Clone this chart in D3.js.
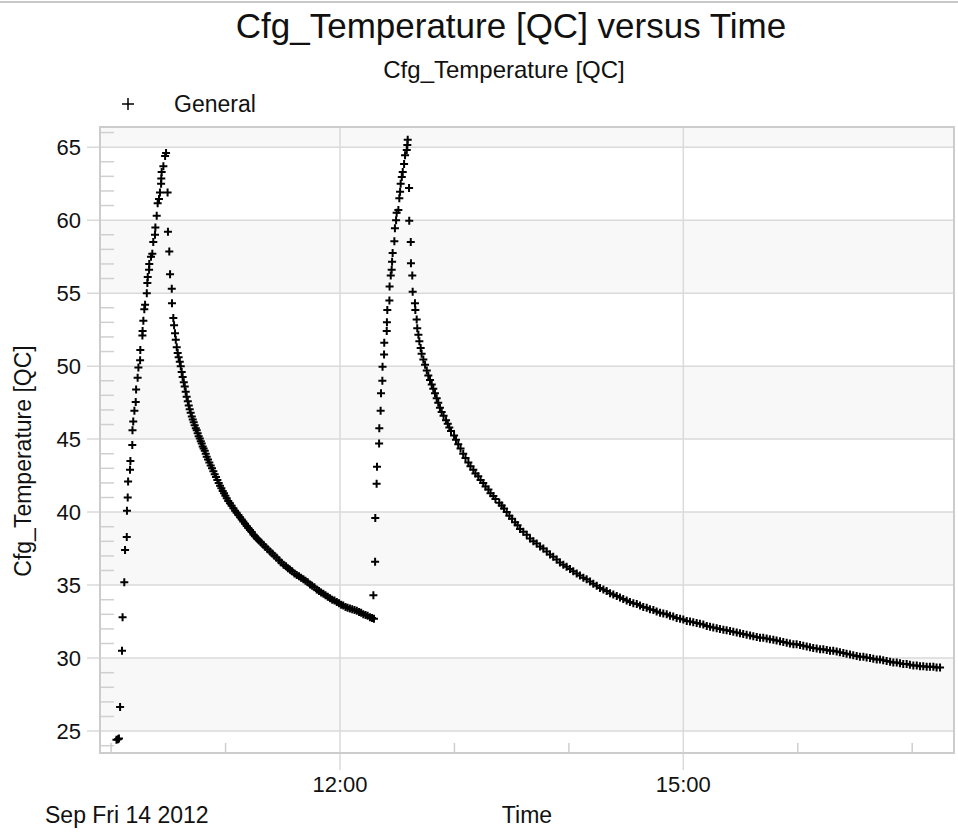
<!DOCTYPE html>
<html>
<head>
<meta charset="utf-8">
<script src="https://cdn.jsdelivr.net/npm/d3@7"></script>
<style>
  body { margin: 0; background: #fff; }
  svg text { font-family: "Liberation Sans", Arial, sans-serif; fill: #111; }
</style>
</head>
<body>
<script>
// chart size
var w = 958;
var h = 832;

// data: minutes after 10:00 on Sep 14 2012, temperature [QC]
var dayStart = "2012-09-14 10:00:00";
var run1Minutes = [2.8,3.6,4.1,4.7,5.7,6.0,6.9,7.3,8.2,8.3,8.7,8.9,9.9,10.1,11.1,11.2,11.6,12.2,12.9,13.1,13.9,14.3,15.2,15.3,16.4,16.5,16.9,17.4,17.8,18.7,19.0,19.2,19.9,20.0,20.9,21.6,22.1,23.0,23.2,23.9,24.4,25.1,25.6,26.2,26.3,26.5,27.4,28.3,28.8,
  29.6,29.8,30.5,30.9,31.8,31.9,32.6,33.0,33.5,33.9,34.4,34.9,35.4,36.0,36.5,37.0,37.5,38.1,38.6,39.1,39.6,40.2,40.7,41.2,41.7,42.3,42.8,43.3,43.8,44.4,44.9,45.4,45.9,46.5,47.0,47.5,48.0,48.5,49.1,49.6,50.1,50.8,51.5,52.2,52.9,53.6,54.3,55.0,55.7,56.4,57.1,57.8,58.5,59.2,59.9,60.6,61.4,62.3,63.2,64.1,65.0,65.8,66.7,67.6,68.5,69.3,70.2,71.1,71.9,72.8,73.7,74.6,75.4,76.5,77.5,78.6,79.8,80.9,82.1,83.3,84.5,85.6,86.8,88.0,89.2,90.4,91.7,92.7,93.8,94.9,96.1,97.3,98.5,99.6,100.8,101.9,103.1,104.3,105.4,106.6,107.8,109.0,110.1,111.3,112.4,113.6,114.8,115.9,117.1,118.3,119.5,120.6,121.7,122.9,124.0,125.2,126.4,127.6,128.8,130.0,131.1,132.2,133.4,134.5,135.7,136.8,137.8];
var run1Temps = [24.4,24.45,24.5,26.65,30.5,32.8,35.2,37.4,38.3,40.1,41.0,42.1,42.9,43.5,44.6,45.6,46.2,46.95,47.55,48.4,49.2,49.9,50.4,51.1,52.1,52.4,53.1,53.9,54.2,55.0,55.7,56.1,56.6,57.0,57.5,57.7,58.5,59.0,59.5,60.3,61.15,61.45,61.9,62.5,62.85,63.3,63.7,64.4,64.6,
  61.9,59.2,57.85,56.3,55.3,54.3,53.3,52.8,52.25,51.8,51.3,50.9,50.6,50.3,50.0,49.6,49.25,48.9,48.6,48.25,47.9,47.6,47.3,47.05,46.8,46.55,46.35,46.15,45.95,45.75,45.6,45.4,45.2,45.05,44.85,44.7,44.5,44.35,44.2,44.0,43.8,43.6,43.4,43.2,43.0,42.8,42.6,42.4,42.2,42.0,41.8,41.63,41.45,41.3,41.12,40.95,40.77,40.6,40.43,40.26,40.1,39.95,39.8,39.65,39.5,39.35,39.2,39.05,38.92,38.78,38.64,38.47,38.35,38.2,38.06,37.92,37.76,37.61,37.46,37.31,37.16,37.01,36.87,36.7,36.55,36.4,36.3,36.15,36.05,35.95,35.8,35.7,35.6,35.5,35.4,35.3,35.2,35.05,34.95,34.85,34.7,34.6,34.5,34.4,34.3,34.2,34.1,34.0,33.95,33.85,33.75,33.65,33.6,33.5,33.45,33.4,33.35,33.3,33.25,33.15,33.1,33.0,32.95,32.9,32.8,32.75,32.7];

var run2Minutes = [137.5,138.4,138.5,139.2,139.4,140.5,140.6,141.3,141.5,142.2,142.3,143.1,143.2,144.5,144.6,144.8,145.9,146.0,146.6,147.1,147.3,147.6,148.5,148.8,149.4,149.7,150.6,151.1,151.5,151.8,152.4,152.9,153.6,154.1,155.0,155.3,155.5,
  156.2,156.3,157.1,157.2,157.9,158.1,159.3,159.5,160.2,160.5,161.1,161.6,162.3,162.8,163.7,164.6,165.5,166.3,167.2,168.1,168.9,169.8,170.7,171.5,172.4,173.3,174.3,175.6,176.5,177.3,178.2,179.8,180.8,182.0,183.2,184.6,185.8,187.3,188.4,189.9,191.0,192.5,193.7,195.1,196.3,197.8,198.9,200.4,201.5,203.5,204.8,206.0,207.4,208.8,210.2,211.8,213.1,214.4,
  216.1,217.9,219.6,221.4,223.1,224.9,226.6,228.4,230.1,231.8,233.6,235.3,237.1,238.8,240.6,242.3,244.1,245.8,247.6,249.3,251.1,252.8,254.6,256.3,258.1,259.8,261.6,263.3,265.1,266.8,268.5,270.3,272.0,273.8,275.6,277.3,279.0,280.8,282.5,284.3,286.0,287.8,289.5,291.3,293.0,294.7,296.5,298.3,300.0,301.8,303.5,305.2,307.0,308.7,310.5,312.3,314.0,315.7,317.5,319.2,321.0,322.7,324.5,326.2,328.0,329.7,331.4,333.2,335.0,336.7,338.5,340.2,341.9,343.7,345.4,347.2,348.9,350.7,352.4,354.2,355.9,357.7,359.4,361.2,362.9,364.7,366.4,368.1,369.9,371.7,373.4,375.2,376.9,378.6,380.4,382.1,383.9,385.6,387.4,389.1,390.9,392.6,394.4,396.1,397.9,399.6,401.4,403.1,404.8,406.6,408.4,410.1,411.9,413.6,415.3,417.1,418.8,420.6,422.4,424.1,425.8,427.6,429.3,431.1,432.8,434.6];
var run2Temps = [34.3,36.6,39.6,41.95,43.1,44.7,45.75,46.95,48.15,49.0,49.95,50.8,51.6,52.4,53.0,53.85,54.5,55.45,56.2,56.6,57.15,57.75,58.55,59.45,60.0,60.5,60.7,61.5,61.95,62.5,62.95,63.3,63.85,64.45,64.8,65.15,65.5,
  62.2,59.95,58.5,57.05,56.2,55.1,54.3,53.85,53.2,52.6,52.15,51.7,51.25,50.85,50.45,50.1,49.7,49.35,49.05,48.75,48.45,48.15,47.8,47.5,47.15,46.85,46.6,46.3,46.05,45.8,45.55,45.25,44.95,44.65,44.35,44.0,43.7,43.4,43.15,42.9,42.65,42.45,42.2,42.0,41.75,41.55,41.3,41.1,40.9,40.65,40.45,40.25,40.0,39.75,39.55,39.3,39.1,38.85,
  38.65,38.45,38.2,38.0,37.85,37.65,37.5,37.3,37.1,36.95,36.75,36.55,36.4,36.25,36.1,35.95,35.8,35.65,35.5,35.4,35.25,35.1,34.95,34.8,34.7,34.6,34.45,34.35,34.25,34.15,34.05,33.95,33.85,33.75,33.7,33.6,33.5,33.45,33.35,33.3,33.2,33.1,33.05,33.0,32.9,32.85,32.75,32.7,32.65,32.55,32.5,32.45,32.4,32.35,32.3,32.2,32.15,32.1,32.05,32.0,31.95,31.9,31.85,31.8,31.75,31.7,31.65,31.6,31.55,31.5,31.45,31.4,31.4,31.35,31.3,31.25,31.2,31.15,31.1,31.05,31.0,30.95,30.95,30.9,30.85,30.8,30.75,30.7,30.65,30.6,30.6,30.55,30.5,30.5,30.45,30.4,30.35,30.3,30.25,30.2,30.15,30.1,30.1,30.05,30.0,29.95,29.9,29.9,29.85,29.8,29.75,29.7,29.7,29.65,29.6,29.6,29.55,29.5,29.5,29.45,29.45,29.4,29.4,29.4,29.35,29.35];

// axes
var xDomain = ["2012-09-14 09:54:10", "2012-09-14 17:21:55"];
var yDomain = [23.5, 66.38];
var yTickValues = [25, 30, 35, 40, 45, 50, 55, 60, 65];
var xLabelTimes = ["2012-09-14 12:00:00", "2012-09-14 15:00:00"];

var title = "Cfg_Temperature [QC] versus Time";
var subtitle = "Cfg_Temperature [QC]";
var seriesName = "General";
var dateLabel = "Sep Fri 14 2012";
var xTitle = "Time";
var yTitle = "Cfg_Temperature [QC]";

var parse = d3.timeParse("%Y-%m-%d %H:%M:%S");
var t0 = parse(dayStart);
function toTime(m) { return new Date(t0.getTime() + m * 60000); }

var points = [];
run1Minutes.forEach(function(m, i) { points.push({ t: toTime(m), v: run1Temps[i] }); });
run2Minutes.forEach(function(m, i) { points.push({ t: toTime(m), v: run2Temps[i] }); });

// plot box (note: "top" is reserved on window, so use other names)
var plotLeft = 100, plotRight = 954, plotTop = 127, plotBottom = 753;

var x = d3.scaleTime().domain(xDomain.map(parse)).range([plotLeft, plotRight]);
var y = d3.scaleLinear().domain(yDomain).range([plotBottom, plotTop]);

var svg = d3.select("body").append("svg")
  .attr("width", w)
  .attr("height", h);

// thin line across the top
svg.append("line")
  .attr("x1", 0).attr("x2", w)
  .attr("y1", 2).attr("y2", 2)
  .attr("stroke", "#b4b4b4").attr("stroke-width", 1.5);

// alternating bands
var edges = [yDomain[0]].concat(yTickValues).concat([yDomain[1]]);
var bands = [];
for (var i = 0; i < edges.length - 1; i++) {
  bands.push({ lo: edges[i], hi: edges[i + 1], grey: i % 2 == 1 });
}
svg.selectAll("rect.band")
  .data(bands)
  .enter()
  .append("rect")
  .attr("class", "band")
  .attr("x", plotLeft)
  .attr("width", plotRight - plotLeft)
  .attr("y", function(d) { return y(d.hi); })
  .attr("height", function(d) { return y(d.lo) - y(d.hi); })
  .attr("fill", function(d) { return d.grey ? "#f8f8f8" : "#ffffff"; });

// grid lines
svg.selectAll("line.hgrid")
  .data(yTickValues)
  .enter()
  .append("line")
  .attr("x1", plotLeft - 13).attr("x2", plotRight)
  .attr("y1", function(d) { return y(d); })
  .attr("y2", function(d) { return y(d); })
  .attr("stroke", "#dadada").attr("stroke-width", 1.5);

var xLabels = xLabelTimes.map(parse);
svg.selectAll("line.vgrid")
  .data(xLabels)
  .enter()
  .append("line")
  .attr("x1", function(d) { return x(d); })
  .attr("x2", function(d) { return x(d); })
  .attr("y1", plotTop).attr("y2", plotBottom + 17)
  .attr("stroke", "#dadada").attr("stroke-width", 1.5);

// minor y ticks, one per unit
var yMinor = d3.range(Math.ceil(yDomain[0]), Math.floor(yDomain[1]) + 1)
  .filter(function(d) { return d % 5 != 0; });
svg.selectAll("line.ymin")
  .data(yMinor)
  .enter()
  .append("line")
  .attr("x1", plotLeft + 1).attr("x2", plotLeft + 14)
  .attr("y1", function(d) { return y(d); })
  .attr("y2", function(d) { return y(d); })
  .attr("stroke", "#d0d0d0").attr("stroke-width", 1.5);

// minor x ticks, hourly
var xMinor = d3.timeHour.range(x.domain()[0], x.domain()[1])
  .filter(function(d) { return d.getHours() != 12 && d.getHours() != 15; });
svg.selectAll("line.xmin")
  .data(xMinor)
  .enter()
  .append("line")
  .attr("x1", function(d) { return x(d); })
  .attr("x2", function(d) { return x(d); })
  .attr("y1", plotBottom - 10).attr("y2", plotBottom)
  .attr("stroke", "#cfcfcf").attr("stroke-width", 1.5);

// plot frame
svg.append("rect")
  .attr("x", plotLeft).attr("y", plotTop)
  .attr("width", plotRight - plotLeft).attr("height", plotBottom - plotTop)
  .attr("fill", "none")
  .attr("stroke", "#cccccc").attr("stroke-width", 2);

// points
var cross = "M-4,0H4M0,-4V4";
svg.selectAll("path.pt")
  .data(points)
  .enter()
  .append("path")
  .attr("class", "pt")
  .attr("d", cross)
  .attr("transform", function(d) { return "translate(" + x(d.t) + "," + y(d.v) + ")"; })
  .attr("stroke", "#000")
  .attr("stroke-width", 2)
  .attr("fill", "none");

// y tick labels
svg.selectAll("text.ylab")
  .data(yTickValues)
  .enter()
  .append("text")
  .text(function(d) { return d; })
  .attr("x", 81)
  .attr("y", function(d) { return y(d); })
  .attr("dy", "0.36em")
  .attr("text-anchor", "end")
  .attr("font-size", "22px");

// x tick labels
svg.selectAll("text.xlab")
  .data(xLabels)
  .enter()
  .append("text")
  .text(d3.timeFormat("%H:%M"))
  .attr("x", function(d) { return x(d); })
  .attr("y", 792)
  .attr("text-anchor", "middle")
  .attr("font-size", "22px");

svg.append("text")
  .text(dateLabel)
  .attr("x", 45).attr("y", 823)
  .attr("font-size", "23px");

svg.append("text")
  .text(xTitle)
  .attr("x", (plotLeft + plotRight) / 2).attr("y", 823)
  .attr("text-anchor", "middle")
  .attr("font-size", "23px");

svg.append("text")
  .text(yTitle)
  .attr("transform", "translate(31,461) rotate(-90)")
  .attr("text-anchor", "middle")
  .attr("font-size", "23px");

// titles
svg.append("text")
  .text(title)
  .attr("x", 511).attr("y", 38)
  .attr("text-anchor", "middle")
  .attr("font-size", "35px");

svg.append("text")
  .text(subtitle)
  .attr("x", 504).attr("y", 78)
  .attr("text-anchor", "middle")
  .attr("font-size", "24px");

// legend
svg.append("path")
  .attr("d", "M-6,0H6M0,-6V6")
  .attr("transform", "translate(128,104)")
  .attr("stroke", "#000")
  .attr("stroke-width", 1.5);

svg.append("text")
  .text(seriesName)
  .attr("x", 174).attr("y", 112)
  .attr("font-size", "23px");
</script>
</body>
</html>
